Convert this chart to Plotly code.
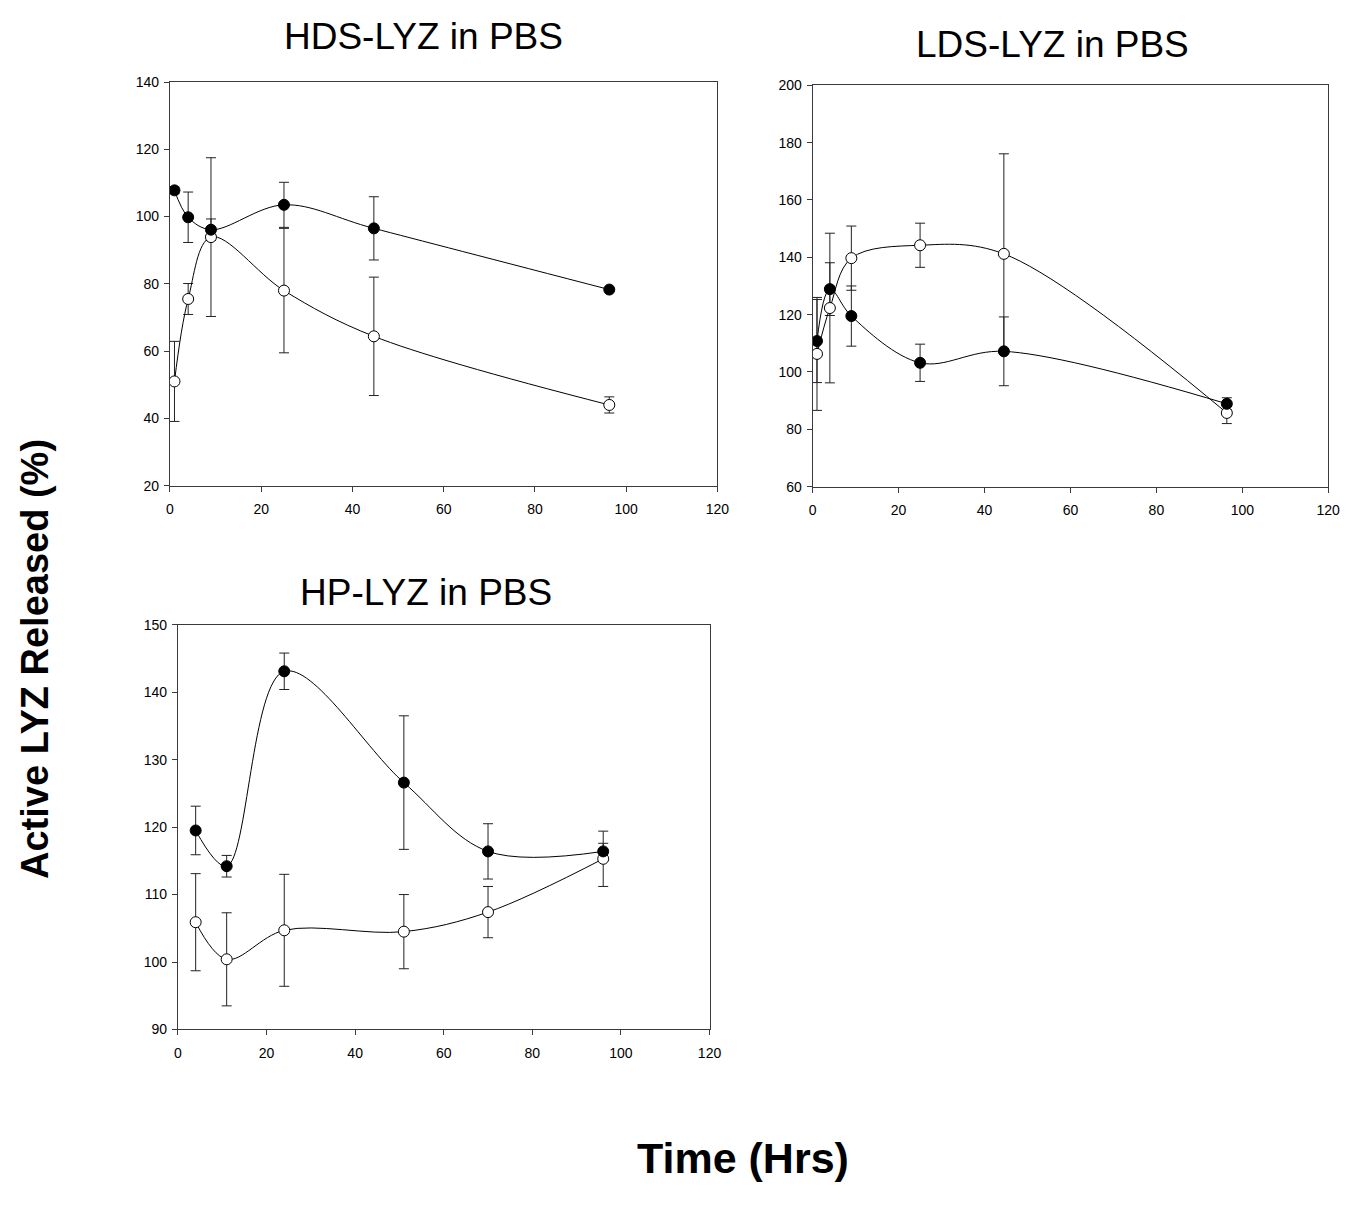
import plotly.graph_objects as go

# ---------------- data ----------------
# HDS-LYZ in PBS
hds_x = [1, 4, 9, 25, 44.7, 96.3]
hds_filled = [107.8, 99.8, 96.1, 103.5, 96.5, 78.3]
hds_filled_err = [1.0, 7.5, 3.2, 6.7, 9.4, 0.4]
hds_open = [51.0, 75.5, 93.9, 78.0, 64.4, 44.0]
hds_open_err = [11.9, 4.6, 23.6, 18.5, 17.6, 2.4]

# LDS-LYZ in PBS
lds_x = [1, 4, 9, 25, 44.5, 96.4]
lds_filled = [110.8, 128.9, 119.5, 103.2, 107.2, 88.9]
lds_filled_err = [14.5, 9.2, 10.5, 6.5, 12.0, 2.1]
lds_open = [106.3, 122.3, 139.7, 144.2, 141.2, 85.7]
lds_open_err = [19.7, 26.1, 11.2, 7.7, 34.9, 3.7]

# HP-LYZ in PBS
hp_x = [4, 11, 24, 51, 70, 96]
hp_filled = [119.5, 114.2, 143.1, 126.6, 116.4, 116.4]
hp_filled_err = [3.6, 1.6, 2.7, 9.9, 4.1, 1.2]
hp_open = [105.9, 100.4, 104.7, 104.5, 107.4, 115.3]
hp_open_err = [7.2, 6.9, 8.3, 5.5, 3.8, 4.1]

titles = ["HDS-LYZ in PBS", "LDS-LYZ in PBS", "HP-LYZ in PBS"]
x_ticks = [0, 20, 40, 60, 80, 100, 120]

FONT = "Arial, Liberation Sans, sans-serif"
AX = "#3a3a3a"

fig = go.Figure()

panels = [
    (hds_x, hds_filled, hds_filled_err, hds_open, hds_open_err, "x", "y"),
    (lds_x, lds_filled, lds_filled_err, lds_open, lds_open_err, "x2", "y2"),
    (hp_x, hp_filled, hp_filled_err, hp_open, hp_open_err, "x3", "y3"),
]

for (xs, f, fe, o, oe, xa, ya) in panels:
    for vals, errs in [(o, oe), (f, fe)]:
        fig.add_trace(go.Scatter(
            x=xs, y=vals, xaxis=xa, yaxis=ya, mode="markers",
            marker=dict(size=0.1, color="rgba(0,0,0,0)"),
            error_y=dict(type="data", array=errs, visible=True,
                         color="#222", thickness=1, width=5),
            showlegend=False, hoverinfo="skip"))
    for vals, fill in [(o, "white"), (f, "black")]:
        fig.add_trace(go.Scatter(
            x=xs, y=vals, xaxis=xa, yaxis=ya, mode="lines+markers",
            line=dict(color="black", width=1, shape="spline", smoothing=1.0),
            marker=dict(size=11, color=fill, line=dict(color="black", width=1)),
            showlegend=False))

def xaxis(domain, anchor):
    return dict(domain=domain, anchor=anchor, range=[0, 120], tickvals=x_ticks,
                showline=True, linecolor=AX, linewidth=1, mirror=True,
                ticks="outside", ticklen=5, tickcolor=AX, showgrid=False,
                ticklabelstandoff=6,
                zeroline=False, tickfont=dict(family=FONT, size=14, color="black"))

def yaxis(domain, anchor, rng, dt):
    return dict(domain=domain, anchor=anchor, range=rng, dtick=dt, tick0=rng[0],
                showline=True, linecolor=AX, linewidth=1, mirror=True,
                ticks="outside", ticklen=5, tickcolor=AX, showgrid=False,
                ticklabelstandoff=2,
                zeroline=False, tickfont=dict(family=FONT, size=14, color="black"))

fig.update_layout(
    width=1354, height=1218,
    margin=dict(l=0, r=0, t=0, b=0),
    paper_bgcolor="white", plot_bgcolor="white",
    xaxis=xaxis([0.1240, 0.5332], "y"),
    yaxis=yaxis([0.6026, 0.9384], "x", [20, 140], 20),
    xaxis2=xaxis([0.6044, 0.9897], "y2"),
    yaxis2=yaxis([0.6018, 0.9357], "x2", [60, 200], 20),
    xaxis3=xaxis([0.1300, 0.5273], "y3"),
    yaxis3=yaxis([0.1502, 0.4869], "x3", [90, 150], 10),
)

ann = [
    dict(text=titles[0], x=424.5 / 1354, y=1 - 29 / 1218),
    dict(text=titles[1], x=1060.7 / 1354, y=1 - 37 / 1218),
    dict(text=titles[2], x=427 / 1354, y=1 - 592 / 1218),
]
for a in ann:
    fig.add_annotation(text=a["text"], x=a["x"], y=a["y"], xref="paper", yref="paper",
                       showarrow=False, xanchor="center", yanchor="middle",
                       font=dict(family=FONT, size=37, color="black"))

fig.add_annotation(text="<b>Active LYZ Released (%)</b>", x=32 / 1354, y=1 - 660 / 1218,
                   xref="paper", yref="paper", showarrow=False, textangle=-90,
                   xanchor="center", yanchor="middle",
                   font=dict(family=FONT, size=38, color="black"))
fig.add_annotation(text="<b>Time (Hrs)</b>", x=748 / 1354, y=1 - 1165 / 1218,
                   xref="paper", yref="paper", showarrow=False,
                   xanchor="center", yanchor="middle",
                   font=dict(family=FONT, size=43, color="black"))

fig.write_html("out.html")
